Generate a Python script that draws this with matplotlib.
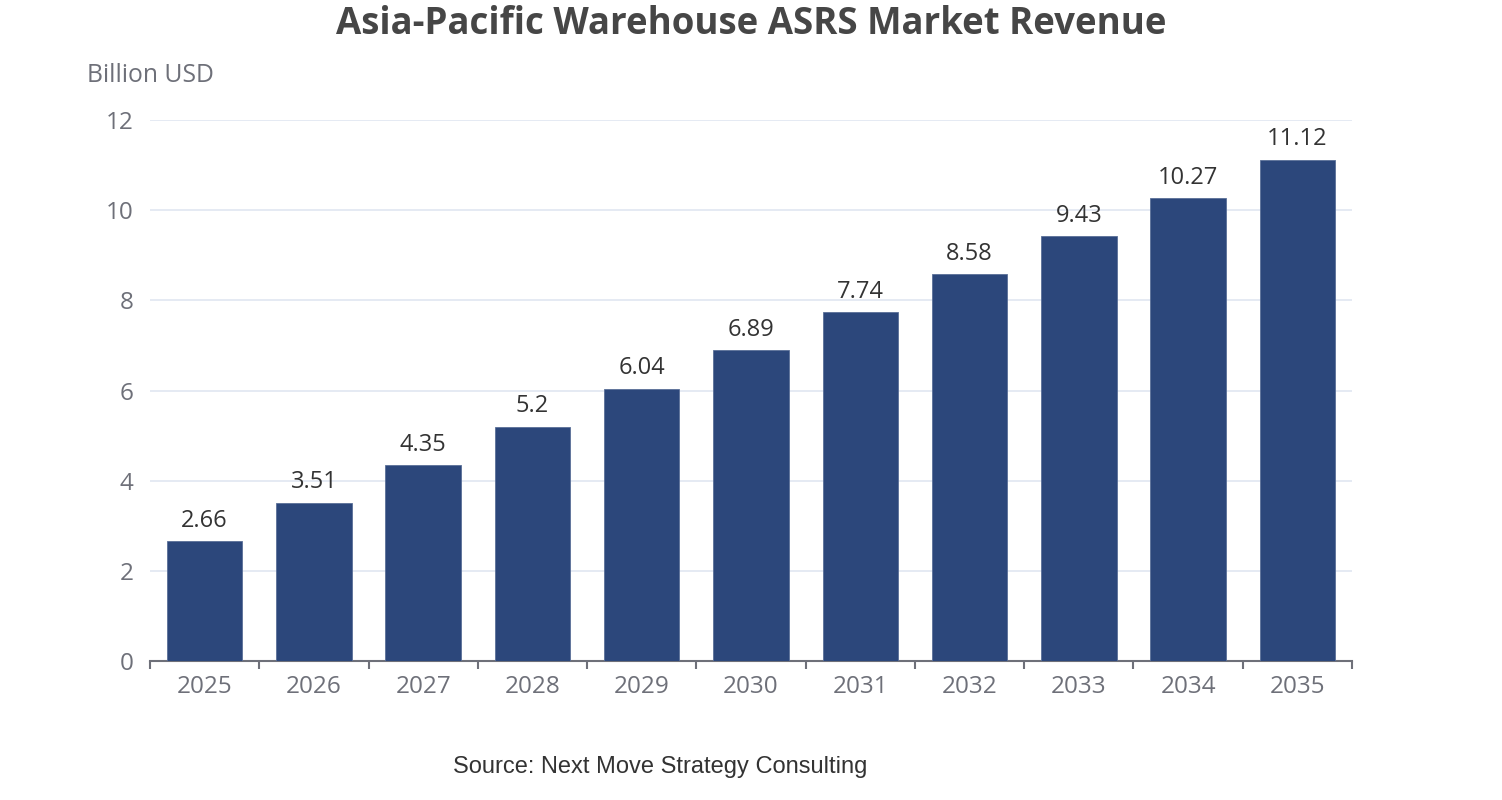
import numpy as np
import matplotlib.pyplot as plt

years = ['2025', '2026', '2027', '2028', '2029', '2030', '2031', '2032', '2033', '2034', '2035']
revenue = [2.66, 3.51, 4.35, 5.2, 6.04, 6.89, 7.74, 8.58, 9.43, 10.27, 11.12]
value_labels = ['2.66', '3.51', '4.35', '5.2', '6.04', '6.89', '7.74', '8.58', '9.43', '10.27', '11.12']

plt.rcParams['font.family'] = ['Open Sans', 'DejaVu Sans']

fig = plt.figure(figsize=(15.02, 8), dpi=100)
ax = fig.add_axes([150 / 1502, 1 - 661 / 800, 1202 / 1502, 541 / 800])

x = np.arange(len(years))
bars = ax.bar(x, revenue, width=0.69, color='#2c477b', edgecolor='#5a6f98', linewidth=0.6, zorder=3)

for xi, v, lab in zip(x, revenue, value_labels):
    ax.annotate(lab, (xi, v), xytext=(0, 6), textcoords='offset points',
                ha='center', va='bottom', fontsize=17, color='#333333')

ax.set_xlim(-0.5, len(years) - 0.5)
ax.set_ylim(0, 12)
ax.set_yticks(range(0, 13, 2))
ax.yaxis.grid(True, color='#e0e6f1', linewidth=1.2, zorder=0)
ax.tick_params(axis='y', length=0, pad=12, labelsize=17.5, labelcolor='#6e7079')

ax.set_xticks(x)
ax.set_xticklabels(years)
ax.set_xticks(np.arange(-0.5, len(years)), minor=True)
ax.tick_params(axis='x', which='major', length=0, pad=10, labelsize=17.5, labelcolor='#6e7079')
ax.tick_params(axis='x', which='minor', length=6, width=1.5, color='#6e7079')

for s in ['top', 'right', 'left']:
    ax.spines[s].set_visible(False)
ax.spines['bottom'].set_color('#6e7079')
ax.spines['bottom'].set_linewidth(1.5)

fig.text(751 / 1502, 1 - 24 / 800, 'Asia-Pacific Warehouse ASRS Market Revenue',
         ha='center', va='center', fontsize=26.4, fontweight='bold', color='#464646')
fig.text(87 / 1502, 1 - 75 / 800, 'Billion USD', ha='left', va='center',
         fontsize=17.8, color='#6e7079')
fig.text(660 / 1502, 1 - 767 / 800, 'Source: Next Move Strategy Consulting',
         ha='center', va='center', fontsize=17, color='#333333', family='Liberation Sans')

fig.savefig('out.png', dpi=100)
